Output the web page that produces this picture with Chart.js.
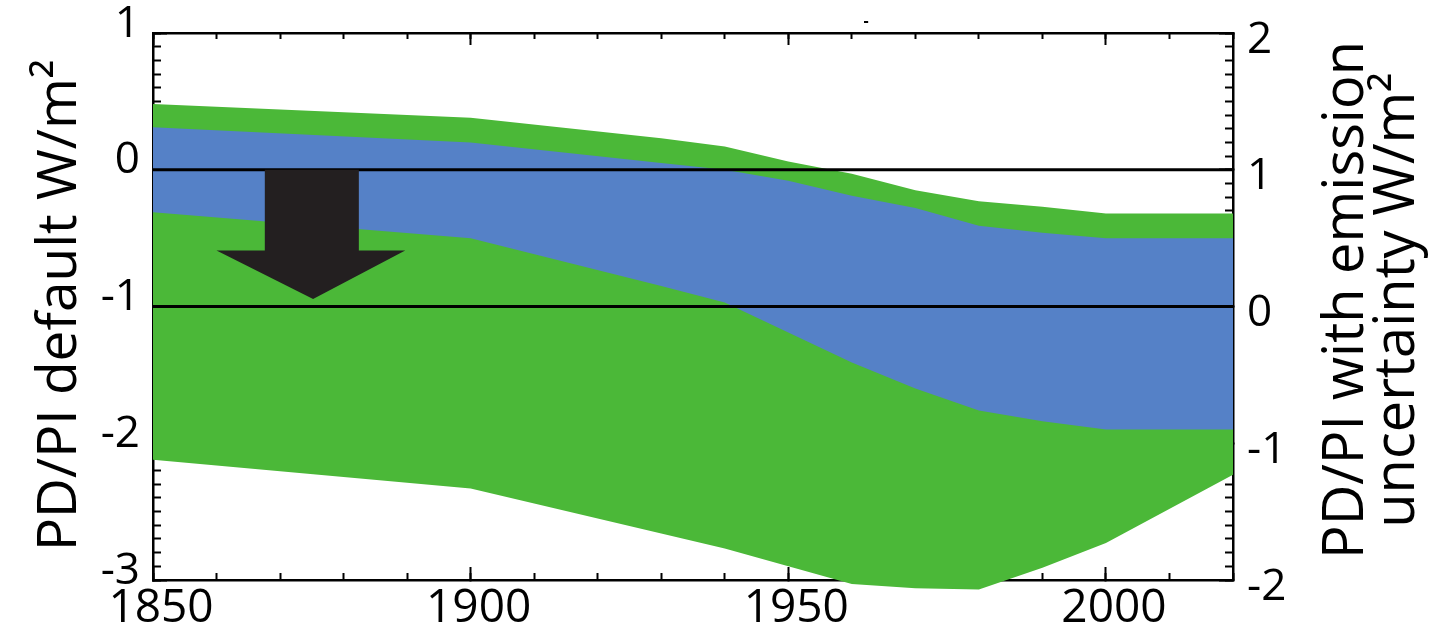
<!DOCTYPE html>
<html>
<head>
<meta charset="utf-8">
<script src="https://cdn.jsdelivr.net/npm/chart.js@4.4.1/dist/chart.umd.min.js"></script>
<style>
  body { margin: 0; background: #fff; }
  #wrap { width: 1438px; height: 643px; position: relative; }
</style>
</head>
<body>
<div id="wrap"><canvas id="forcing"></canvas></div>
<script>
// band edges, left axis units (W/m2)
const years = [1850, 1900, 1930, 1940, 1950, 1960, 1970, 1980, 1990, 2000, 2020];
const greenUpper = [0.48, 0.38, 0.23, 0.17, 0.06, -0.03, -0.15, -0.23, -0.27, -0.32, -0.32];
const blueUpper = [0.31, 0.20, 0.05, 0.00, -0.08, -0.19, -0.28, -0.41, -0.46, -0.50, -0.50];
const blueLower = [-0.31, -0.50, -0.85, -0.97, -1.19, -1.41, -1.60, -1.76, -1.84, -1.90, -1.90];
const greenLower = [-2.12, -2.33, -2.66, -2.77, -2.90, -3.03, -3.06, -3.07, -2.91, -2.73, -2.23];

// reference lines (left axis 0 and -1)
const refLevels = [0, -1];

// arrow outline
const arrowX = [1867.6, 1867.6, 1860.0, 1875.2, 1889.7, 1882.4, 1882.4, 1867.6];
const arrowY = [0, -0.59, -0.59, -0.945, -0.59, -0.59, 0, 0];

const leftTitle = 'PD/PI default W/m²';
const rightTitle = ['PD/PI with emission', 'uncertainty W/m²'];

const GREEN = '#4bb838';
const BLUE = '#5581c7';

Chart.defaults.font.family = "'Open Sans', sans-serif";
Chart.defaults.color = '#000';

function pts(xs, ys) {
    return xs.map((x, i) => ({ x: x, y: ys[i] }));
}

// the green band dips a little below the bottom axis in the original:
// loosen the dataset clip and let the filler paint past the plot bottom
const overflow = { left: 0, top: 0, right: 0, bottom: 14 };
const fillOverflow = {
    id: 'fillOverflow',
    beforeDatasetsDraw(chart) {
        chart._plotArea = chart.chartArea;
        chart.chartArea = Object.assign({}, chart.chartArea, { bottom: chart.chartArea.bottom + overflow.bottom });
    },
    afterDatasetsDraw(chart) {
        chart.chartArea = chart._plotArea;
    }
};

// axis titles, both reading bottom-to-top
const sideTitles = {
    id: 'sideTitles',
    afterDraw(chart) {
        const { ctx, chartArea } = chart;
        ctx.save();
        ctx.fillStyle = '#000';
        ctx.textAlign = 'center';
        ctx.textBaseline = 'alphabetic';

        ctx.save();
        ctx.font = "55px 'Open Sans'";
        ctx.translate(chartArea.left, 305);
        ctx.rotate(-Math.PI / 2);
        ctx.fillText(leftTitle, 0, -77);
        ctx.restore();

        ctx.save();
        ctx.font = "56px 'Open Sans'";
        ctx.translate(chartArea.right, 300);
        ctx.rotate(-Math.PI / 2);
        ctx.fillText(rightTitle[0], 0, 130);
        ctx.fillText(rightTitle[1], 0, 181);
        ctx.restore();

        ctx.font = "bold 16px 'Open Sans'";
        ctx.textBaseline = 'middle';
        ctx.fillText('-', 866, 21);
        ctx.restore();
    }
};

const sideFont = { size: 44 };
const yearFont = { size: 46 };
const label = (v) => String(v);
const noLabels = { display: false };

function tickGrid(len) {
    return { drawOnChartArea: false, color: '#000', tickColor: '#000', tickWidth: 2, tickLength: len };
}
const frame = { display: true, color: '#000', width: 2.5 };

function fitH(h) {
    return (s) => { s.height = h; s.paddingLeft = 0; s.paddingRight = 0; };
}
function fitW(w) {
    return (s) => { s.width = w; s.paddingTop = 0; s.paddingBottom = 0; };
}

function axis(extra) {
    return Object.assign({
        type: 'linear',
        grid: tickGrid(-7),
        border: { display: false }
    }, extra);
}

new Chart(document.getElementById('forcing'), {
    type: 'line',
    data: {
        datasets: [
            {
                label: 'arrow',
                data: pts(arrowX, arrowY),
                backgroundColor: '#231f20',
                borderWidth: 0,
                pointRadius: 0,
                fill: 'shape'
            },
            {
                label: 'zero',
                data: pts([1850, 2020], [refLevels[0], refLevels[0]]),
                borderColor: '#000',
                borderWidth: 3,
                pointRadius: 0,
                fill: false
            },
            {
                label: 'minus one',
                data: pts([1850, 2020], [refLevels[1], refLevels[1]]),
                borderColor: '#000',
                borderWidth: 3,
                pointRadius: 0,
                fill: false
            },
            {
                label: 'default upper',
                data: pts(years, blueUpper),
                backgroundColor: BLUE,
                borderWidth: 0,
                pointRadius: 0,
                fill: '+1'
            },
            {
                label: 'default lower',
                data: pts(years, blueLower),
                borderWidth: 0,
                pointRadius: 0,
                fill: false
            },
            {
                label: 'emission upper',
                data: pts(years, greenUpper),
                backgroundColor: GREEN,
                borderWidth: 0,
                pointRadius: 0,
                fill: '+1',
                clip: overflow
            },
            {
                label: 'emission lower',
                data: pts(years, greenLower),
                borderWidth: 0,
                pointRadius: 0,
                fill: false,
                clip: overflow
            }
        ]
    },
    options: {
        responsive: true,
        maintainAspectRatio: false,
        animation: false,
        events: [],
        layout: { padding: { top: 33, left: 0, right: 0, bottom: 0 } },
        plugins: {
            legend: { display: false },
            tooltip: { enabled: false }
        },
        scales: {
            x: axis({
                position: 'bottom', min: 1850, max: 2020, weight: 1,
                ticks: { stepSize: 50, includeBounds: false, autoSkip: false, maxRotation: 0,
                    font: yearFont, padding: 14, labelOffset: 8, callback: label },
                grid: tickGrid(-13),
                border: frame,
                afterFit: fitH(63)
            }),
            xMinor: axis({
                position: 'bottom', min: 1850, max: 2020, weight: 0,
                ticks: Object.assign({ stepSize: 10 }, noLabels),
                afterFit: fitH(0)
            }),
            xTop: axis({
                position: 'top', min: 1850, max: 2020, weight: 1,
                ticks: Object.assign({ stepSize: 50, includeBounds: false }, noLabels),
                grid: tickGrid(-12),
                border: frame,
                afterFit: fitH(0)
            }),
            xTopMinor: axis({
                position: 'top', min: 1850, max: 2020, weight: 0,
                ticks: Object.assign({ stepSize: 10 }, noLabels),
                grid: tickGrid(-6),
                afterFit: fitH(0)
            }),
            y: axis({
                position: 'left', min: -3, max: 1, weight: 1,
                ticks: { stepSize: 1, autoSkip: false, font: sideFont, padding: 27, labelOffset: -9, callback: label },
                grid: tickGrid(-14),
                border: frame,
                afterFit: fitW(153)
            }),
            yMinor: axis({
                position: 'left', min: -3, max: 1, weight: 0,
                ticks: Object.assign({ stepSize: 0.1 }, noLabels),
                grid: tickGrid(-8),
                afterFit: fitW(0)
            }),
            y2: axis({
                position: 'right', min: -2, max: 2, weight: 1,
                ticks: { stepSize: 1, autoSkip: false, font: sideFont, padding: 28, labelOffset: 7, callback: label },
                grid: tickGrid(-14),
                border: frame,
                afterFit: fitW(205)
            }),
            y2Minor: axis({
                position: 'right', min: -2, max: 2, weight: 0,
                ticks: Object.assign({ stepSize: 0.1 }, noLabels),
                grid: tickGrid(-8),
                afterFit: fitW(0)
            })
        }
    },
    plugins: [fillOverflow, sideTitles]
});
</script>
</body>
</html>
